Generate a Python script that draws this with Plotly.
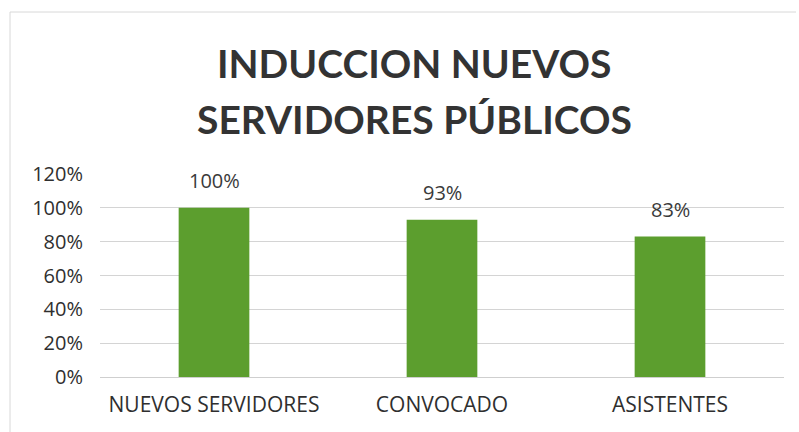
import plotly.graph_objects as go

categories = ["NUEVOS SERVIDORES", "CONVOCADO", "ASISTENTES"]
values = [1.00, 0.93, 0.83]
y_ticks = [0, 0.2, 0.4, 0.6, 0.8, 1.0, 1.2]
title_lines = ["INDUCCION NUEVOS", "SERVIDORES PÚBLICOS"]

W, H = 799, 432
L, R, T, B = 100, 15, 174, 55
PW, PH = W - L - R, H - T - B


def px_x(px):
    return (px - L) / PW


def px_y(py):
    return (H - B - py) / PH


title_font = "Lato, 'Open Sans', sans-serif"
label_font = "'Open Sans', Lato, sans-serif"

fig = go.Figure()
fig.add_trace(go.Bar(
    x=categories,
    y=values,
    width=0.31,
    marker=dict(color="#5C9E2E", line=dict(width=0)),
    hoverinfo="skip",
))

annotations = [
    dict(text=f"{v:.0%}", x=c, y=v, xref="x", yref="y", showarrow=False,
         yanchor="bottom", yshift=12,
         font=dict(family=label_font, size=20, color="#3a3a3a"))
    for c, v in zip(categories, values)
]
annotations += [
    dict(text=f"<b>{title_lines[0]}</b>", x=px_x(414), y=px_y(63),
         xref="paper", yref="paper", showarrow=False,
         font=dict(family=title_font, size=39, color="#333333"),
         xanchor="center", yanchor="middle"),
    dict(text=f"<b>{title_lines[1]}</b>", x=px_x(414), y=px_y(119),
         xref="paper", yref="paper", showarrow=False,
         font=dict(family=title_font, size=39, color="#333333"),
         xanchor="center", yanchor="middle"),
]

fig.update_layout(
    width=W, height=H,
    margin=dict(l=L, r=R, t=T, b=B, autoexpand=False),
    paper_bgcolor="white",
    plot_bgcolor="white",
    showlegend=False,
    font=dict(family=label_font, color="#3a3a3a"),
    xaxis=dict(
        showgrid=False, showline=False, zeroline=False,
        ticks="", tickfont=dict(size=21, color="#2f2f2f"),
        ticklabelstandoff=13, automargin=False,
    ),
    yaxis=dict(
        range=[0, 1.2], tickvals=y_ticks, tickformat=".0%",
        showgrid=True, gridcolor="#d4d4d4", gridwidth=1,
        zeroline=True, zerolinecolor="#cfcfcf", zerolinewidth=1,
        showline=False, ticks="",
        tickfont=dict(size=20, color="#2f2f2f"),
        ticklabelstandoff=16, automargin=False,
    ),
    annotations=annotations,
    shapes=[
        dict(type="line", xref="paper", yref="paper",
             x0=px_x(10), x1=px_x(10), y0=px_y(H), y1=px_y(12),
             line=dict(color="#d8d8d8", width=1)),
        dict(type="line", xref="paper", yref="paper",
             x0=px_x(10), x1=px_x(796), y0=px_y(12), y1=px_y(12),
             line=dict(color="#d8d8d8", width=1)),
    ],
)

fig.write_html("out.html")
